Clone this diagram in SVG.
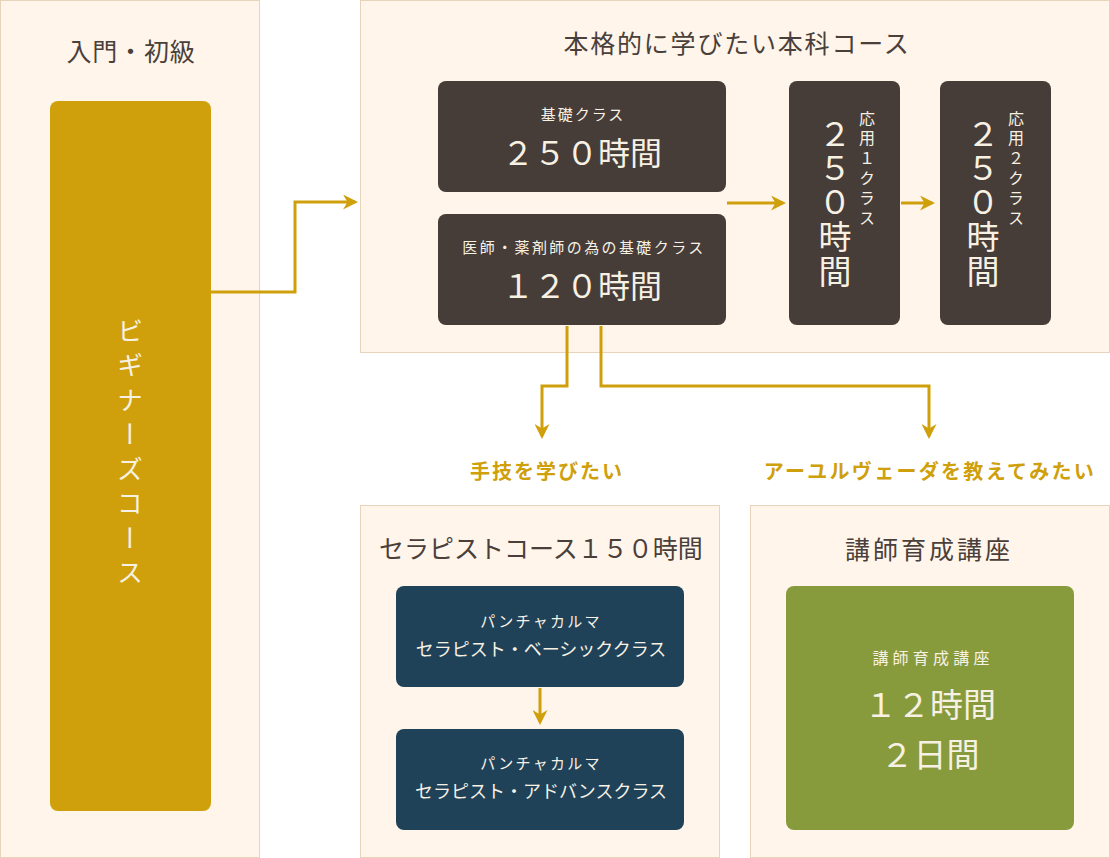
<svg xmlns="http://www.w3.org/2000/svg" width="1110" height="858" viewBox="0 0 1110 858">
<style>
text{font-family:"Noto Sans CJK JP","Noto Sans",sans-serif;text-anchor:middle}
.panel{fill:#fff5ea;stroke:#e8d4ba;stroke-width:1}
.ttl{fill:#4a3f3a;font-size:25px}
.w{fill:#f7f1e4}
.dark{fill:#463c38}
.blue{fill:#1f4259}
.con{fill:none;stroke:#cfa00b;stroke-width:3}
.lbl{fill:#cfa00b;font-size:20px;font-weight:bold}
.v{writing-mode:vertical-rl}
</style>
<defs>
<marker id="ah" viewBox="0 0 10 10" refX="8" refY="5" markerWidth="5" markerHeight="5" orient="auto" markerUnits="strokeWidth">
<path d="M0,0 L10,5 L0,10 L3,5 z" fill="#cfa00b"/>
</marker>
</defs>
<rect width="1110" height="858" fill="#ffffff"/>
<g id="panel-beginner">
<rect class="panel" x="0.5" y="0.5" width="259" height="857"/>
<text class="ttl" x="131" y="61" letter-spacing="0.8">入門・初級</text>
</g>
<g id="node-beginner">
<rect x="50" y="101" width="161" height="710" rx="8" fill="#cfa00b"/>
<text class="w v" x="130" y="456" font-size="26" letter-spacing="8.5">ビギナーズコース</text>
</g>
<g id="panel-main">
<rect class="panel" x="360.5" y="0.5" width="749" height="352"/>
<text class="ttl" x="737" y="53" letter-spacing="1.8">本格的に学びたい本科コース</text>
</g>
<g id="node-kiso">
<rect class="dark" x="438" y="81" width="288" height="111" rx="8"/>
<text class="w" x="583" y="120" font-size="15" letter-spacing="2">基礎クラス</text>
<text class="w" x="582" y="165" font-size="32">２５０時間</text>
</g>
<g id="node-ishi">
<rect class="dark" x="438" y="214" width="288" height="111" rx="8"/>
<text class="w" x="584" y="253" font-size="15" letter-spacing="2.4">医師・薬剤師の為の基礎クラス</text>
<text class="w" x="582" y="298" font-size="32">１２０時間</text>
</g>
<g id="node-oyo1">
<rect class="dark" x="789" y="81" width="111" height="244" rx="8"/>
<text class="w v" x="835" y="203" font-size="33" letter-spacing="1.5">２５０時間</text>
<text class="w v" x="867" y="170" font-size="16" letter-spacing="3.8">応用１クラス</text>
</g>
<g id="node-oyo2">
<rect class="dark" x="940" y="81" width="111" height="244" rx="8"/>
<text class="w v" x="983" y="203" font-size="33" letter-spacing="1.5">２５０時間</text>
<text class="w v" x="1016" y="170" font-size="16" letter-spacing="3.8">応用２クラス</text>
</g>
<g id="panel-therapist">
<rect class="panel" x="360.5" y="505.5" width="359" height="352"/>
<text class="ttl" x="541" y="558" font-size="24.5">セラピストコース１５０時間</text>
</g>
<g id="node-basic">
<rect class="blue" x="396" y="586" width="288" height="101" rx="8"/>
<text class="w" x="541" y="627" font-size="15" letter-spacing="2.3">パンチャカルマ</text>
<text class="w" x="541" y="656" font-size="18">セラピスト・ベーシッククラス</text>
</g>
<g id="node-advance">
<rect class="blue" x="396" y="729" width="288" height="101" rx="8"/>
<text class="w" x="541" y="769" font-size="15" letter-spacing="2.3">パンチャカルマ</text>
<text class="w" x="541" y="798" font-size="18">セラピスト・アドバンスクラス</text>
</g>
<g id="panel-instructor">
<rect class="panel" x="750.5" y="505.5" width="359" height="352"/>
<text class="ttl" x="929" y="559" letter-spacing="3">講師育成講座</text>
</g>
<g id="node-instructor">
<rect x="786" y="586" width="288" height="244" rx="8" fill="#879b3d"/>
<text class="w" x="933" y="664" font-size="16" letter-spacing="4.2">講師育成講座</text>
<text class="w" x="930" y="717" font-size="33">１２時間</text>
<text class="w" x="930" y="767" font-size="33">２日間</text>
</g>
<g id="labels">
<text class="lbl" x="547" y="479" letter-spacing="2">手技を学びたい</text>
<text class="lbl" x="930" y="479" letter-spacing="2.3">アーユルヴェーダを教えてみたい</text>
</g>
<g id="connectors">
<polyline class="con" points="211,292 295,292 295,202 355,202" marker-end="url(#ah)"/>
<polyline class="con" points="727,203 783,203" marker-end="url(#ah)"/>
<polyline class="con" points="901,203 932,203" marker-end="url(#ah)"/>
<polyline class="con" points="567,326 567,386 542,386 542,436" marker-end="url(#ah)"/>
<polyline class="con" points="601,326 601,386 929,386 929,436" marker-end="url(#ah)"/>
<polyline class="con" points="540,688 540,722" marker-end="url(#ah)"/>
</g>
</svg>
